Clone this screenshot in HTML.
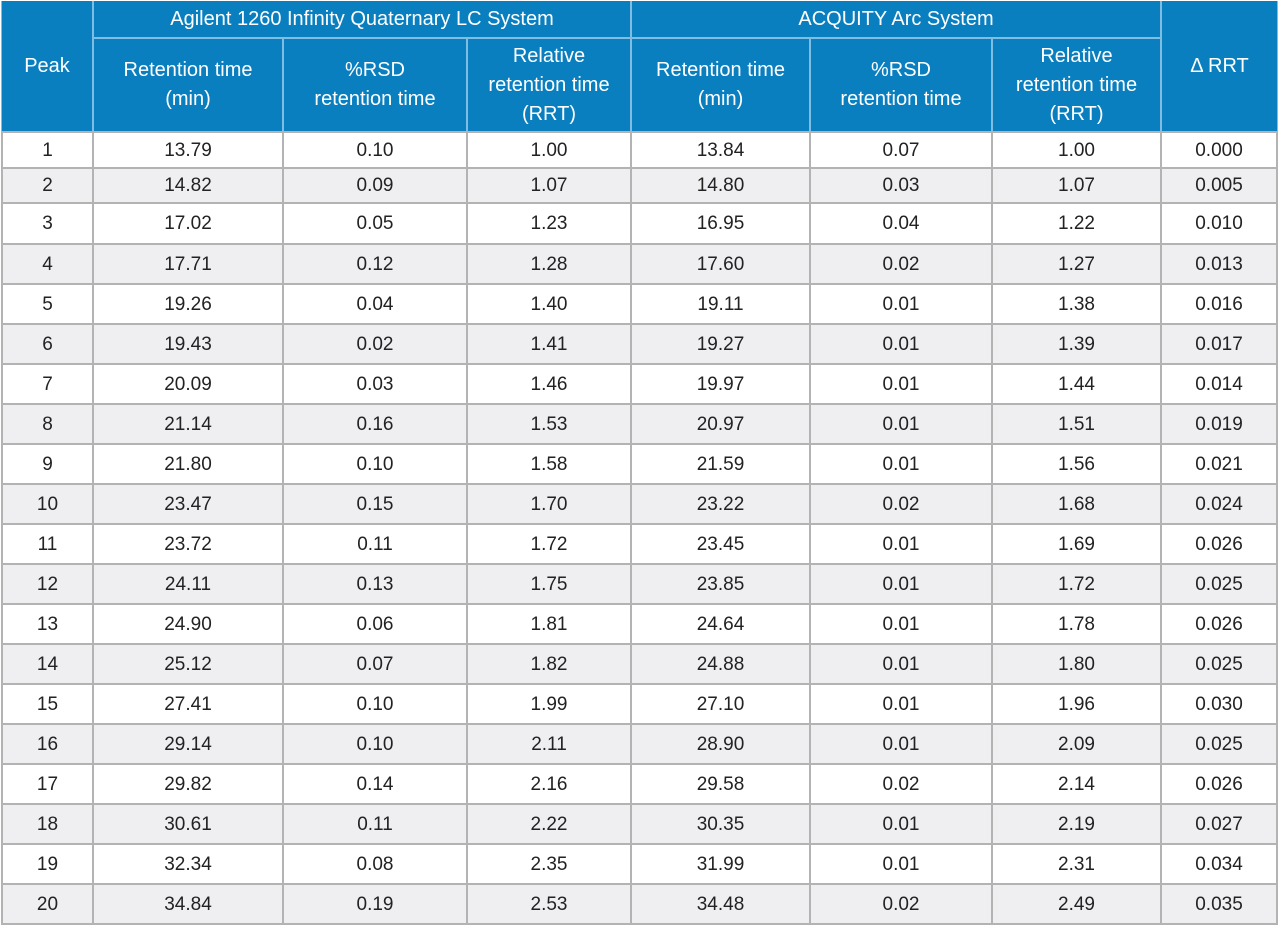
<!DOCTYPE html>
<html><head><meta charset="utf-8"><style>
html,body{margin:0;padding:0;background:#fff;width:1280px;height:927px;overflow:hidden}
#t{position:absolute;left:0;top:0;width:1280px;height:927px;font-family:"Liberation Sans",sans-serif}
.c{position:absolute;box-sizing:border-box;display:flex;align-items:center;justify-content:center;text-align:center;line-height:29px}
.h{background:#0a7fbf;color:#fff;font-size:20px}
.d{color:#222;font-size:19px}
.bg{position:absolute}
</style></head><body>
<div id="t"></div>
<script>
const colX=[2,93,283,467,631,810,992,1161,1277];
const rowY=[132,168,203,244,284,324,364,404,444,484,524,564,604,644,684,724,764,804,844,884,924];
const peaks=["1","2","3","4","5","6","7","8","9","10","11","12","13","14","15","16","17","18","19","20"];
const agRT=["13.79","14.82","17.02","17.71","19.26","19.43","20.09","21.14","21.80","23.47","23.72","24.11","24.90","25.12","27.41","29.14","29.82","30.61","32.34","34.84"];
const agRSD=["0.10","0.09","0.05","0.12","0.04","0.02","0.03","0.16","0.10","0.15","0.11","0.13","0.06","0.07","0.10","0.10","0.14","0.11","0.08","0.19"];
const agRRT=["1.00","1.07","1.23","1.28","1.40","1.41","1.46","1.53","1.58","1.70","1.72","1.75","1.81","1.82","1.99","2.11","2.16","2.22","2.35","2.53"];
const acRT=["13.84","14.80","16.95","17.60","19.11","19.27","19.97","20.97","21.59","23.22","23.45","23.85","24.64","24.88","27.10","28.90","29.58","30.35","31.99","34.48"];
const acRSD=["0.07","0.03","0.04","0.02","0.01","0.01","0.01","0.01","0.01","0.02","0.01","0.01","0.01","0.01","0.01","0.01","0.02","0.01","0.01","0.02"];
const acRRT=["1.00","1.07","1.22","1.27","1.38","1.39","1.44","1.51","1.56","1.68","1.69","1.72","1.78","1.80","1.96","2.09","2.14","2.19","2.31","2.49"];
const dRRT=["0.000","0.005","0.010","0.013","0.016","0.017","0.014","0.019","0.021","0.024","0.026","0.025","0.026","0.025","0.030","0.025","0.026","0.027","0.034","0.035"];
const cols=[peaks,agRT,agRSD,agRRT,acRT,acRSD,acRRT,dRRT];
const colNames=["peak","agilent-retention-time","agilent-rsd","agilent-rrt","acquity-retention-time","acquity-rsd","acquity-rrt","delta-rrt"];
const T=document.getElementById('t');
function bg(x,y,w,h,c,n){const e=document.createElement('div');e.className='bg';


e.style.cssText=`left:${x}px;top:${y}px;width:${w}px;height:${h}px;background:${c}`;T.appendChild(e);}
bg(1,1,1277,131,'#7fbde3','header-grid');
bg(1,131,1277,794,'#b3b3b3','body-grid');
function cell(x1,y1,x2,y2,cls,html,n,bgc){const e=document.createElement('div');e.className='c '+cls;


e.style.left=(x1+1)+'px';e.style.top=(y1+1)+'px';e.style.width=(x2-x1-2)+'px';e.style.height=(y2-y1-2)+'px';
if(bgc)e.style.background=bgc;e.innerHTML=html;T.appendChild(e);}
cell(colX[0]-1,0,colX[1],rowY[0],'h','Peak','peak-header');
cell(colX[1],0,colX[4],38,'h','Agilent 1260 Infinity Quaternary LC System','agilent-group-header');
cell(colX[4],0,colX[7],38,'h','ACQUITY Arc System','acquity-group-header');
cell(colX[7],0,colX[8]+1,rowY[0],'h','Δ RRT','delta-rrt-header');
const sub=['Retention time<br>(min)','%RSD<br>retention time','Relative<br>retention time<br>(RRT)'];
for(let g=0;g<2;g++)for(let k=0;k<3;k++){const i=1+g*3+k;
cell(colX[i],38,colX[i+1],rowY[0],'h',sub[k],colNames[i]+'-header');}
for(let r=0;r<peaks.length;r++){const b=r%2?'#efeef1':'#fff';
for(let i=0;i<8;i++){
cell(colX[i]-(i==0?0:0),rowY[r],colX[i+1],rowY[r+1],'d',cols[i][r],colNames[i]+'-cell-'+(r+1),b);}}
</script>
</body></html>
